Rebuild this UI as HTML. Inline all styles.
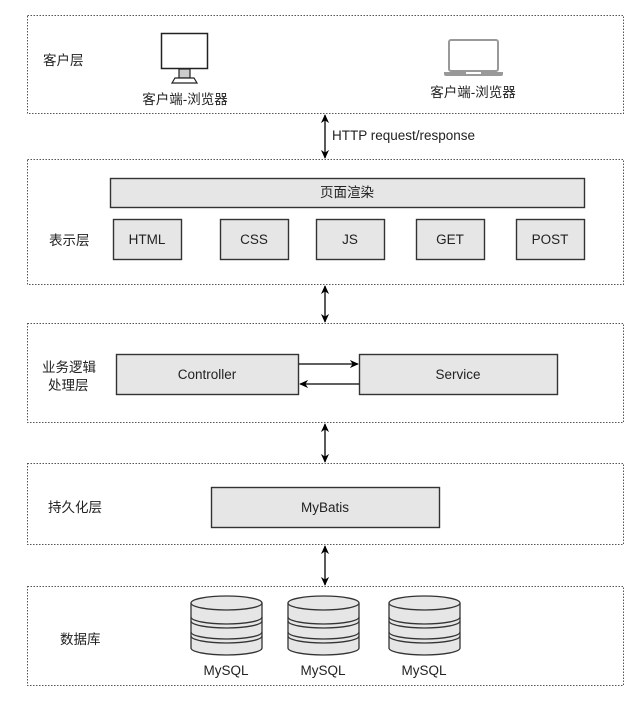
<!DOCTYPE html>
<html><head><meta charset="utf-8"><style>
html,body{margin:0;padding:0;background:#fff;}
svg{display:block;}
text{font-family:"Liberation Sans","Noto Sans CJK SC",sans-serif;font-size:13.5px;fill:#222;}
</style></head><body>
<svg width="643" height="702" viewBox="0 0 643 702" xmlns="http://www.w3.org/2000/svg">
<defs>
<marker id="ah" viewBox="0 0 10 10" refX="9" refY="5" markerWidth="9" markerHeight="9" markerUnits="userSpaceOnUse" orient="auto-start-reverse"><path d="M0,0.5 L10,5 L0,9.5 L3,5 Z" fill="#000"/></marker>
</defs>
<g fill="none" stroke="#555" stroke-width="1" stroke-dasharray="1.5,1.5">
<rect x="27.5" y="15.5" width="596" height="98"/>
<rect x="27.5" y="159.5" width="596" height="125"/>
<rect x="27.5" y="323.5" width="596" height="99"/>
<rect x="27.5" y="463.5" width="596" height="81"/>
<rect x="27.5" y="586.5" width="596" height="99"/>
</g>
<text x="43" y="65">客户层</text>
<text x="49" y="245">表示层</text>
<text x="42" y="372">业务逻辑</text>
<text x="48" y="390">处理层</text>
<text x="48" y="512">持久化层</text>
<text x="60" y="644">数据库</text>
<rect x="161.5" y="33.5" width="46" height="35" fill="#fff" stroke="#222" stroke-width="1.5"/>
<rect x="179" y="69" width="11" height="9" fill="#ccc" stroke="#222" stroke-width="1.2"/>
<path d="M172,83 L175,78 L194,78 L197,83 Z" fill="#fff" stroke="#222" stroke-width="1.2"/>
<text x="185" y="104" text-anchor="middle">客户端-浏览器</text>
<rect x="449" y="40" width="49" height="31" rx="2" fill="#fff" stroke="#999" stroke-width="2"/>
<path d="M444,72 L503,72 L503,74 Q503,76 501,76 L446,76 Q444,76 444,74 Z" fill="#999"/>
<rect x="466" y="72" width="15" height="2" fill="#fff"/>
<text x="473" y="97" text-anchor="middle">客户端-浏览器</text>
<g stroke="#000" stroke-width="1.3" marker-start="url(#ah)" marker-end="url(#ah)">
<line x1="325" y1="115" x2="325" y2="158"/>
<line x1="325" y1="286" x2="325" y2="322"/>
<line x1="325" y1="424" x2="325" y2="462"/>
<line x1="325" y1="546" x2="325" y2="585"/>
</g>
<text x="332" y="140">HTTP request/response</text>
<g fill="#e6e6e6" stroke="#333" stroke-width="1.4">
<rect x="110.5" y="178.5" width="474" height="29"/>
<rect x="113.5" y="219.5" width="68" height="40"/>
<rect x="220.5" y="219.5" width="68" height="40"/>
<rect x="316.5" y="219.5" width="68" height="40"/>
<rect x="416.5" y="219.5" width="68" height="40"/>
<rect x="516.5" y="219.5" width="68" height="40"/>
<rect x="116.5" y="354.5" width="182" height="40"/>
<rect x="359.5" y="354.5" width="198" height="40"/>
<rect x="211.5" y="487.5" width="228" height="40"/>
</g>
<text x="347" y="197" text-anchor="middle">页面渲染</text>
<text x="147" y="244" text-anchor="middle">HTML</text>
<text x="254" y="244" text-anchor="middle">CSS</text>
<text x="350" y="244" text-anchor="middle">JS</text>
<text x="450" y="244" text-anchor="middle">GET</text>
<text x="550" y="244" text-anchor="middle">POST</text>
<text x="207" y="379" text-anchor="middle">Controller</text>
<text x="458" y="379" text-anchor="middle">Service</text>
<text x="325" y="512" text-anchor="middle">MyBatis</text>
<g stroke="#000" stroke-width="1.3">
<line x1="299" y1="364" x2="358" y2="364" marker-end="url(#ah)"/>
<line x1="359" y1="384" x2="300" y2="384" marker-end="url(#ah)"/>
</g>
<g id="db" fill="#e6e6e6" stroke="#333" stroke-width="1.3">
<path d="M191,603 L191,648 A35.5,7 0 0 0 262,648 L262,603"/>
<path d="M191,617 A35.5,7 0 0 0 262,617 M191,621 A35.5,7 0 0 0 262,621 M191,632 A35.5,7 0 0 0 262,632 M191,636 A35.5,7 0 0 0 262,636" fill="none"/>
<ellipse cx="226.5" cy="603" rx="35.5" ry="7"/>
</g>
<use href="#db" x="97"/>
<use href="#db" x="198"/>
<text x="226" y="675" text-anchor="middle">MySQL</text>
<text x="323" y="675" text-anchor="middle">MySQL</text>
<text x="424" y="675" text-anchor="middle">MySQL</text>
</svg>
</body></html>
